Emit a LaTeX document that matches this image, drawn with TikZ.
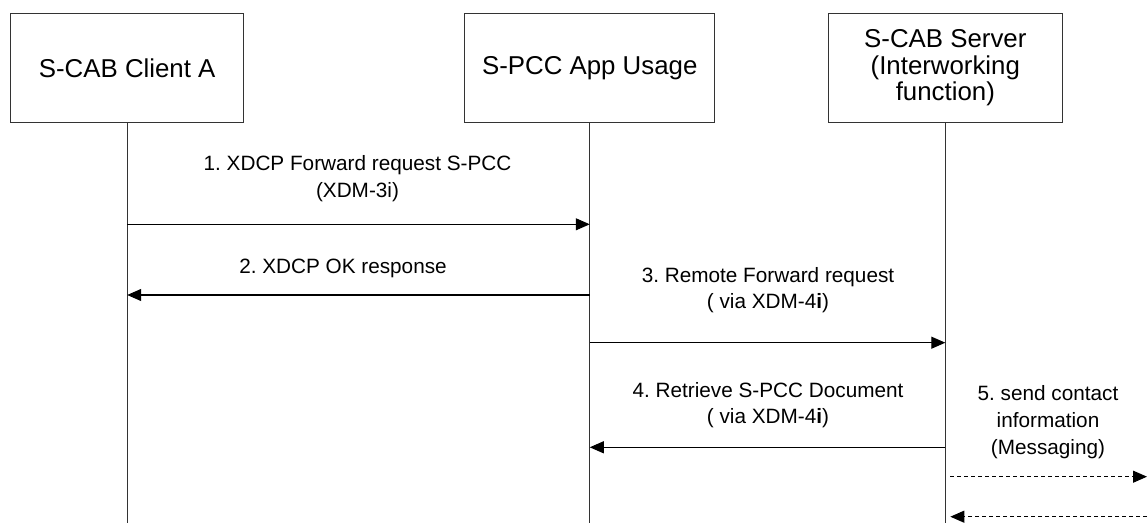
\documentclass[tikz,border=0pt]{standalone}
\usepackage{fontspec}
\setmainfont{Liberation Sans}
\usetikzlibrary{arrows.meta,positioning}
\frenchspacing
\newcommand{\viaxdm}{( via XDM-4\textbf{i})}
\tikzset{>={Triangle[length=0.28cm,width=0.24cm]},
  entity/.style={draw=black!80, line width=0.6pt, minimum height=2.18cm,
    align=center, inner sep=2pt, font=\fontsize{14.7}{15.2}\selectfont},
  lifeline/.style={draw=black!80, line width=0.6pt},
  msg/.style={->, line width=0.6pt},
  msgdash/.style={->, line width=0.6pt, dash pattern=on 0.08cm off 0.06cm},
  lbl/.style={align=center, inner sep=0pt, font=\fontsize{11.8}{15.2}\selectfont},
}

\begin{document}
\begin{tikzpicture}
    \useasboundingbox (0,0) rectangle (22.96,-10.46);

    \node[entity, minimum width=4.66cm] (A) at (2.544,-1.356) {S-CAB Client A};
    \node[entity, minimum width=5cm, right=4.4cm of A] (B) {S-PCC App Usage};
    \node[entity, minimum width=4.68cm, right=2.25cm of B] (C)
        {S-CAB Server\\(Interworking\\function)};

    \coordinate (bottom) at (0,-10.46);
    \coordinate (rim) at (22.94,0);
    \foreach \n in {A,B,C}
        \draw[lifeline] (\n) -- (\n |- bottom);

    \coordinate (m1) at (0,-4.486);
    \coordinate (m2) at (0,-5.9);
    \coordinate (m3) at (0,-6.854);
    \coordinate (m4) at (0,-8.946);
    \coordinate (m5) at (0,-9.534);
    \coordinate (m6) at (0,-10.334);

    \draw[msg] (A |- m1) -- (B |- m1);
    \draw[msg] (B |- m2) -- (A |- m2);
    \draw[msg] (B |- m3) -- (C |- m3);
    \draw[msg] (C |- m4) -- (B |- m4);
    \draw[msgdash, shorten <=0.1cm] (C |- m5) -- (rim |- m5);
    \draw[msgdash, shorten >=0.1cm] (rim |- m6) -- (C |- m6);

    \node[lbl] (l1) at (7.15,-3.567) {1. XDCP Forward request S-PCC\\(XDM-3i)};
    \node[lbl] (l2) at (6.86,-5.366) {2. XDCP OK response};
    \node[lbl] (l3) at (15.36,-5.8) {3. Remote Forward request\\\viaxdm};
    \node[lbl] (l4) at (15.36,-8.1) {4. Retrieve S-PCC Document\\\viaxdm};
    \node[lbl] (l5) at (20.96,-8.44) {5. send contact\\information\\(Messaging)};
\end{tikzpicture}
\end{document}
